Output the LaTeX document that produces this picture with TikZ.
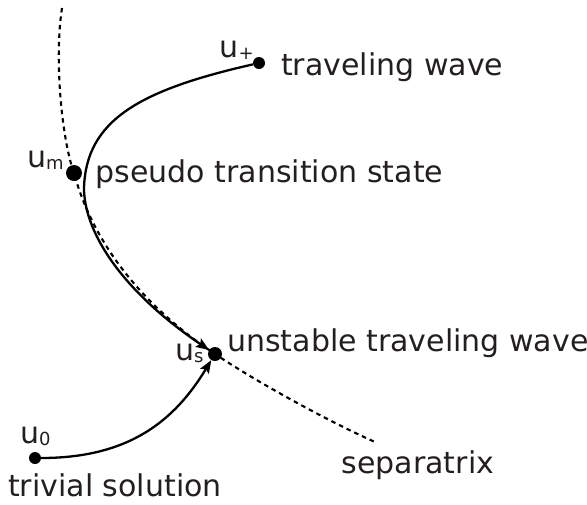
\documentclass[tikz,border=0pt]{standalone}
\usepackage{fontspec}
\setmainfont{DejaVu Sans}
\usetikzlibrary{arrows.meta,backgrounds}
\definecolor{ink}{HTML}{231F20}
\newcommand\mysubs[1]{\raisebox{-2pt}{\fontsize{18}{18}\selectfont #1}}
\begin{document}
\begin{tikzpicture}[x=1pt,y=-1pt,
  lbl/.style={inner sep=0pt,anchor=base west,text=ink,font=\fontsize{30}{36}\selectfont},
  dot/.style={circle,fill=black,inner sep=0pt},
  conn/.style={line width=2.3pt,black,-{Stealth[length=13pt,width=10pt,inset=2.5pt]}},
  plain/.style={line width=2.3pt,black},
  sepline/.style={line width=2.1pt,black,dash pattern=on 4.5pt off 4pt}]
\useasboundingbox (0,0) rectangle (587,504);
% dots
\node[dot,minimum size=12pt] (up) at (259,63) {};
\node[dot,minimum size=16pt] (um) at (74,173) {};
\node[dot,minimum size=14pt] (us) at (215,354) {};
\node[dot,minimum size=12pt] (u0) at (35,458) {};
\coordinate (turn) at (84,188);
\coordinate (stop) at (62,8);
\coordinate (send) at (375,442);
% labels
\node[lbl] (lup) at (219.5,57) {u\mysubs{+}};
\node[lbl] (lum) at (27,167) {u\mysubs{m}};
\node[lbl] (lus) at (175,360) {u\mysubs{s}};
\node[lbl] (lu0) at (20,443) {u\mysubs{0}};
\node[lbl] (ttw) at (281,75) {traveling wave};
\node[lbl] (tps) at (95.5,182) {pseudo transition state};
\node[lbl] (tus) at (227,351) {unstable traveling wave};
\node[lbl] (tsep) at (341.5,473) {separatrix};
\node[lbl] (ttriv) at (8,496) {trivial solution};
\begin{pgfonlayer}{background}
\draw[sepline] (stop) .. controls (54,60) and (62,140) .. (um.center)
  .. controls (88,225) and (125,294) .. (us.center)
  .. controls (260,384) and (330,422) .. (send);
\draw[plain] (up) .. controls (140,90) and (86,120) .. (turn);
\draw[conn] (turn) .. controls (84,230) and (119,289) .. (us);
\draw[conn] (u0) .. controls (130,458) and (175,420) .. (us);
\end{pgfonlayer}
\end{tikzpicture}
\end{document}
